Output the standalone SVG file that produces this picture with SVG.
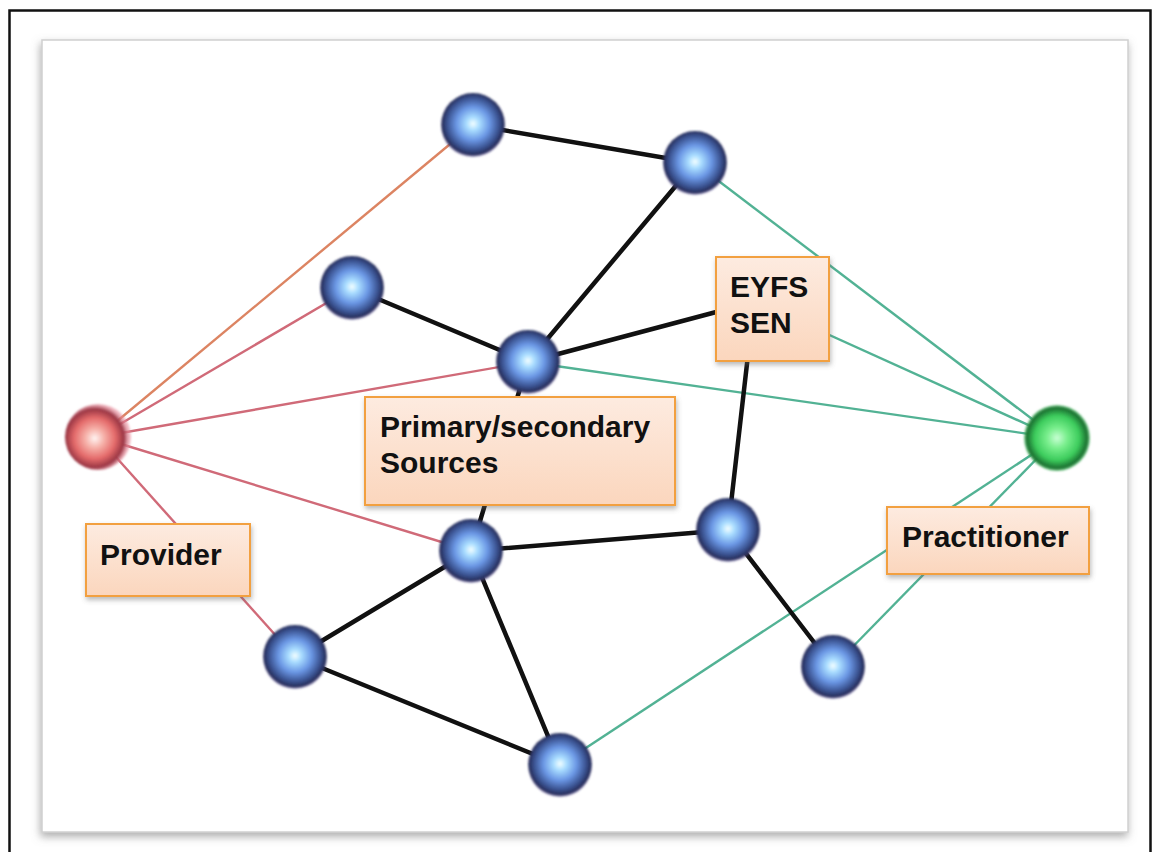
<svg xmlns="http://www.w3.org/2000/svg" width="1154" height="852" viewBox="0 0 1154 852">
<style>
.frame{fill:none;stroke:#111;stroke-width:2.5}
.panel{fill:#fff;stroke:#d0d0d0;stroke-width:1.5}
.blk{stroke:#111;stroke-width:4.5;stroke-linecap:round;fill:none}
.red{stroke:#d06a78;stroke-width:2.4;fill:none}
.org{stroke:#dc8462;stroke-width:2.4;fill:none}
.grn{stroke:#52b294;stroke-width:2.4;fill:none}
.box{fill:url(#boxg);stroke:#f2a040;stroke-width:2}
.lbl{font-family:"Liberation Sans",Arial,Helvetica,sans-serif;font-weight:bold;font-size:30px;fill:#111}
</style>
<defs>
<filter id="pshadow" x="-5%" y="-5%" width="110%" height="110%">
<feDropShadow dx="-1" dy="4" stdDeviation="4" flood-color="#777" flood-opacity="0.6"/>
</filter>
<filter id="bshadow" x="-10%" y="-10%" width="120%" height="130%">
<feDropShadow dx="1" dy="3" stdDeviation="2.5" flood-color="#666" flood-opacity="0.45"/>
</filter>
<filter id="soft" x="-20%" y="-20%" width="140%" height="140%">
<feGaussianBlur stdDeviation="0.8"/>
</filter>
<linearGradient id="boxg" x1="0" y1="0" x2="0" y2="1">
<stop offset="0" stop-color="#fdebe0"/>
<stop offset="1" stop-color="#fbd6bd"/>
</linearGradient>
<radialGradient id="gblue" cx="50%" cy="48%" r="52%">
<stop offset="0" stop-color="#f4ffff"/>
<stop offset="0.2" stop-color="#a8dcff"/>
<stop offset="0.5" stop-color="#6a96e4"/>
<stop offset="0.78" stop-color="#3a5290"/>
<stop offset="0.93" stop-color="#262c58"/>
<stop offset="1" stop-color="#6a60a0" stop-opacity="0.5"/>
</radialGradient>
<radialGradient id="gred" cx="45%" cy="52%" r="52%">
<stop offset="0" stop-color="#fff4f2"/>
<stop offset="0.28" stop-color="#f6b0a8"/>
<stop offset="0.6" stop-color="#e46a6a"/>
<stop offset="0.85" stop-color="#9a3644"/>
<stop offset="1" stop-color="#e88a9a" stop-opacity="0.6"/>
</radialGradient>
<radialGradient id="ggrn" cx="50%" cy="50%" r="52%">
<stop offset="0" stop-color="#c8ffd4"/>
<stop offset="0.3" stop-color="#78ee8c"/>
<stop offset="0.65" stop-color="#3ccc5c"/>
<stop offset="0.88" stop-color="#1a6e30"/>
<stop offset="1" stop-color="#5ee07a" stop-opacity="0.6"/>
</radialGradient>
</defs>

<rect x="9.5" y="10.5" width="1141" height="860" class="frame"/>
<rect x="42" y="40" width="1086" height="792" class="panel" filter="url(#pshadow)"/>

<g id="connectors">
<line class="org" x1="98" y1="437" x2="473" y2="125"/>
<line class="red" x1="98" y1="437" x2="352" y2="288"/>
<line class="red" x1="98" y1="437" x2="528" y2="362"/>
<line class="red" x1="98" y1="437" x2="471" y2="551"/>
<line class="red" x1="98" y1="437" x2="295" y2="657"/>
<line class="grn" x1="695" y1="163" x2="1057" y2="438"/>
<line class="grn" x1="772" y1="309" x2="1057" y2="438"/>
<line class="grn" x1="528" y1="362" x2="1057" y2="438"/>
<line class="grn" x1="560" y1="765" x2="1057" y2="438"/>
<line class="grn" x1="833" y1="667" x2="1057" y2="438"/>
<line class="blk" x1="473" y1="125" x2="695" y2="163"/>
<line class="blk" x1="695" y1="163" x2="528" y2="362"/>
<line class="blk" x1="352" y1="288" x2="528" y2="362"/>
<line class="blk" x1="528" y1="362" x2="720" y2="311"/>
<line class="blk" x1="748" y1="355" x2="728" y2="530"/>
<line class="blk" x1="528" y1="362" x2="471" y2="551"/>
<line class="blk" x1="471" y1="551" x2="728" y2="530"/>
<line class="blk" x1="728" y1="530" x2="833" y2="667"/>
<line class="blk" x1="471" y1="551" x2="295" y2="657"/>
<line class="blk" x1="471" y1="551" x2="560" y2="765"/>
<line class="blk" x1="295" y1="657" x2="560" y2="765"/>
</g>

<g id="n1"><circle cx="473" cy="125" r="32" fill="url(#gblue)" filter="url(#soft)"/></g>
<g id="n2"><circle cx="695" cy="163" r="32" fill="url(#gblue)" filter="url(#soft)"/></g>
<g id="n3"><circle cx="352" cy="288" r="32" fill="url(#gblue)" filter="url(#soft)"/></g>
<g id="n4"><circle cx="528" cy="362" r="32" fill="url(#gblue)" filter="url(#soft)"/></g>
<g id="n5"><circle cx="471" cy="551" r="32" fill="url(#gblue)" filter="url(#soft)"/></g>
<g id="n6"><circle cx="728" cy="530" r="32" fill="url(#gblue)" filter="url(#soft)"/></g>
<g id="n7"><circle cx="295" cy="657" r="32" fill="url(#gblue)" filter="url(#soft)"/></g>
<g id="n8"><circle cx="833" cy="667" r="32" fill="url(#gblue)" filter="url(#soft)"/></g>
<g id="n9"><circle cx="560" cy="765" r="32" fill="url(#gblue)" filter="url(#soft)"/></g>
<g id="provider-node"><circle cx="98" cy="437" r="33" fill="url(#gred)" filter="url(#soft)"/></g>
<g id="practitioner-node"><circle cx="1057" cy="438" r="33" fill="url(#ggrn)" filter="url(#soft)"/></g>

<g id="label-provider">
<rect x="86" y="524" width="164" height="72" class="box" filter="url(#bshadow)"/>
<text x="100" y="565" class="lbl">Provider</text>
</g>
<g id="label-sources">
<rect x="365" y="397" width="310" height="108" class="box" filter="url(#bshadow)"/>
<text x="380" y="437" class="lbl">Primary/secondary</text>
<text x="380" y="473" class="lbl">Sources</text>
</g>
<g id="label-eyfs">
<rect x="716" y="257" width="113" height="104" class="box" filter="url(#bshadow)"/>
<text x="730" y="297" class="lbl">EYFS</text>
<text x="730" y="333" class="lbl">SEN</text>
</g>
<g id="label-practitioner">
<rect x="887" y="507" width="202" height="67" class="box" filter="url(#bshadow)"/>
<text x="902" y="547" class="lbl">Practitioner</text>
</g>
</svg>
